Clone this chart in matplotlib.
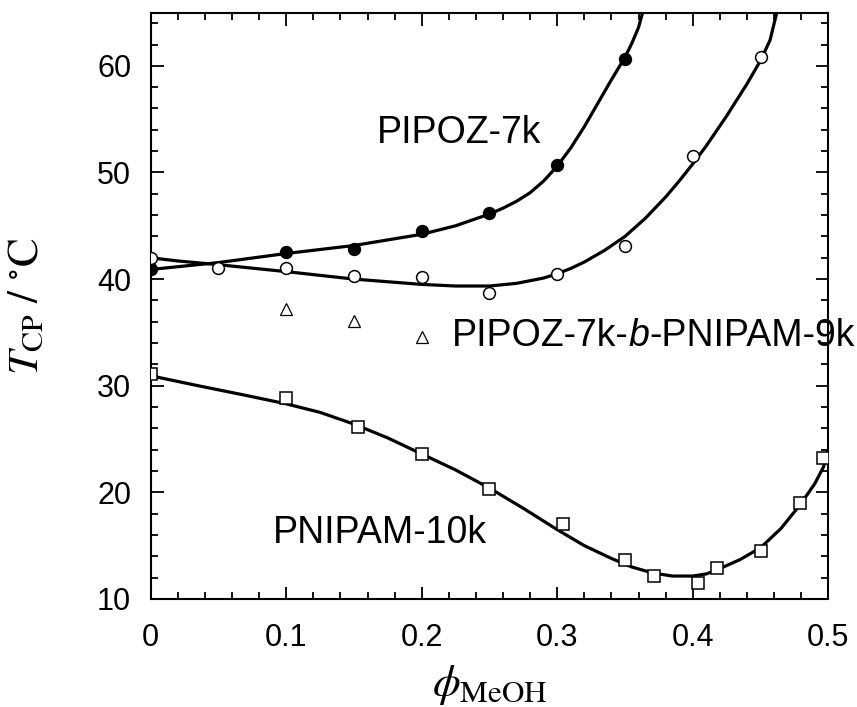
import matplotlib
matplotlib.use("Agg")
import matplotlib.pyplot as plt
from matplotlib.ticker import MultipleLocator

plt.rcParams['font.family'] = ['Liberation Sans', 'DejaVu Sans']
plt.rcParams['mathtext.fontset'] = 'stix'

# Datos medidos (puntos)
phi_pipoz = [0.0, 0.1, 0.15, 0.2, 0.25, 0.3, 0.35]
t_pipoz = [40.9, 42.5, 42.8, 44.5, 46.2, 50.7, 60.6]

phi_block = [0.0, 0.05, 0.1, 0.15, 0.2, 0.25, 0.3, 0.35, 0.4, 0.45]
t_block = [42.0, 41.0, 41.0, 40.3, 40.2, 38.7, 40.5, 43.1, 51.5, 60.8]

phi_tri = [0.1, 0.15, 0.2]
t_tri = [37.2, 36.05, 34.6]

phi_pnipam = [0.0, 0.1, 0.1527, 0.2, 0.25, 0.304, 0.35, 0.3715, 0.404, 0.418, 0.45, 0.479, 0.496]
t_pnipam = [31.1, 28.85, 26.1, 23.55, 20.3, 17.0, 13.65, 12.2, 11.5, 12.9, 14.5, 19.0, 23.2]

# Curvas de ajuste
curve_pipoz_x = [0.0, 0.05, 0.1, 0.15, 0.2, 0.225, 0.25, 0.26, 0.27, 0.28, 0.29, 0.3, 0.31,
                 0.32, 0.33, 0.34, 0.35, 0.355, 0.36, 0.363]
curve_pipoz_y = [40.9, 41.55, 42.4, 43.15, 44.2, 45.0, 46.1, 46.65, 47.3, 48.1, 49.2, 50.6,
                 52.3, 54.3, 56.5, 58.7, 60.8, 62.1, 63.6, 65.0]

curve_block_x = [0.0, 0.02, 0.05, 0.1, 0.15, 0.2, 0.225, 0.25, 0.27, 0.29, 0.3, 0.31, 0.32,
                 0.335, 0.35, 0.365, 0.38, 0.39, 0.4, 0.41, 0.425, 0.44, 0.45, 0.457, 0.462]
curve_block_y = [42.0, 41.7, 41.35, 40.7, 40.0, 39.5, 39.35, 39.35, 39.6, 40.1, 40.5, 41.0,
                 41.6, 42.7, 44.0, 45.7, 47.7, 49.2, 50.8, 52.5, 55.3, 58.3, 60.5, 62.4, 65.0]

curve_pnipam_x = [0.0, 0.005, 0.035, 0.07, 0.1, 0.125, 0.15, 0.175, 0.2, 0.225, 0.25, 0.275,
                  0.3, 0.32, 0.34, 0.355, 0.37, 0.385, 0.4, 0.41, 0.42, 0.435, 0.45, 0.465,
                  0.479, 0.49, 0.4965, 0.5]
curve_pnipam_y = [31.5, 30.8, 30.0, 29.1, 28.3, 27.5, 26.4, 25.1, 23.6, 22.1, 20.4, 18.5,
                  16.5, 15.0, 13.8, 13.0, 12.45, 12.15, 12.15, 12.35, 12.85, 13.7, 14.8, 16.6,
                  18.8, 20.8, 22.4, 24.0]

xticks = [0.0, 0.1, 0.2, 0.3, 0.4, 0.5]
xtick_labels = ['0', '0.1', '0.2', '0.3', '0.4', '0.5']
yticks = [10, 20, 30, 40, 50, 60]

fig = plt.figure(figsize=(8.57, 7.07), dpi=100)
ax = fig.add_axes([0.1758, 0.1528, 0.7907, 0.8295])

lw = 2.3
ax.plot(curve_pipoz_x, curve_pipoz_y, color='black', lw=lw, zorder=2)
ax.plot(curve_block_x, curve_block_y, color='black', lw=lw, zorder=2)
ax.plot(curve_pnipam_x, curve_pnipam_y, color='black', lw=lw, zorder=2)

ax.plot(phi_pipoz, t_pipoz, 'o', ms=8.5, mfc='black', mec='black', mew=1.1, zorder=3)
ax.plot(phi_block, t_block, 'o', ms=8.5, mfc='white', mec='black', mew=1.1, zorder=3)
ax.plot(phi_pnipam, t_pnipam, 's', ms=8.5, mfc='white', mec='black', mew=1.1, zorder=3)
ax.plot(phi_tri, t_tri, '^', ms=8, mfc='white', mec='black', mew=0.9, zorder=3)

ax.text(0.1668, 53.7, 'PIPOZ-7k', fontsize=27, va='center', ha='left')
# rótulo do copolímero em três partes (b em itálico)
t1 = ax.text(0.222, 34.7, 'PIPOZ-7k-', fontsize=27, va='center', ha='left', clip_on=False)
t2 = ax.annotate('b', xy=(1, 0), xycoords=t1, va='bottom', ha='left',
                 fontsize=27, fontstyle='italic')
ax.annotate('-PNIPAM-9k', xy=(1, 0), xycoords=t2, va='bottom', ha='left', fontsize=27)
ax.text(0.0903, 16.2, 'PNIPAM-10k', fontsize=27, va='center', ha='left')

ax.set_xlim(0, 0.5)
ax.set_ylim(10, 65)
ax.set_xticks(xticks)
ax.set_xticklabels(xtick_labels)
ax.set_yticks(yticks)
ax.xaxis.set_minor_locator(MultipleLocator(0.02))
ax.yaxis.set_minor_locator(MultipleLocator(2))

ax.tick_params(which='both', direction='in', top=True, right=True, width=1.3)
ax.tick_params(which='major', length=9)
ax.tick_params(which='minor', length=5)
ax.tick_params(axis='x', which='major', labelsize=22, pad=17)
ax.tick_params(axis='y', which='major', labelsize=22, pad=14)
for s in ax.spines.values():
    s.set_linewidth(1.5)

ax.set_xlabel(r'$\phi_{\mathrm{MeOH}}$', fontsize=32)
ax.xaxis.set_label_coords(0.5, -0.11)
ax.set_ylabel(r'$T_{\mathrm{CP}}\ /\ ^{\circ}\mathrm{C}$', fontsize=31)
ax.yaxis.set_label_coords(-0.152, 0.5)

fig.savefig('out.png', dpi=100)
